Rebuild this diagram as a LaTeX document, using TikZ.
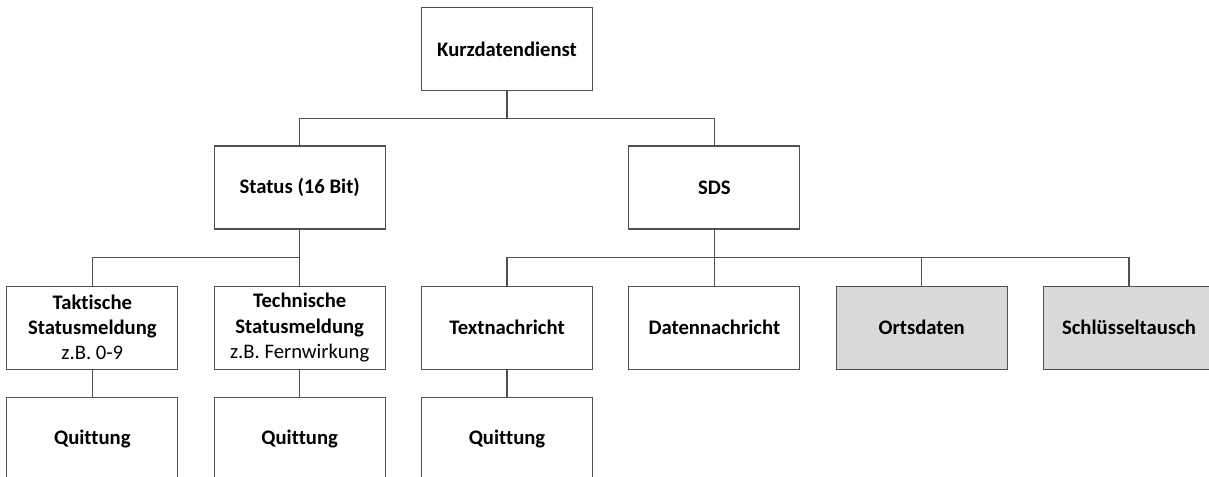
\documentclass[tikz,border=0pt]{standalone}
\usepackage{fontspec}
\setmainfont[Ligatures=NoCommon]{Carlito}
\usetikzlibrary{positioning,calc}
\definecolor{linegray}{RGB}{80,80,80}
\definecolor{boxgray}{RGB}{217,217,217}
\tikzset{
	box/.style={rectangle,draw=linegray,line width=.8pt,minimum width=128.25pt,minimum height=62.25pt,inner sep=0pt,align=center,font=\bfseries\fontsize{15.5}{18.8}\selectfont},
	greybox/.style={box,fill=boxgray},
	bus/.style={draw=linegray,line width=.8pt,to path={(\tikztostart.south) |- ($(\tikztostart.south)!.5!(\tikztotarget.north)$) -| (\tikztotarget.north)}},
}
\begin{document}
\begin{tikzpicture}[-,on grid,node distance=155.5pt]
	\clip (0,0) rectangle (906.75pt,-357.75pt);
	\node[box]		(K) at (380.25pt,-36.75pt)		{Kurzdatendienst};
	\node[box]		(S) [below left=103.9pt and 155.5pt of K]	{Status (16 Bit)};
	\node[box]		(D) [below right=103.9pt and 155.5pt of K]	{SDS};
	\node[box]		(T1) [below left=105pt and 155.5pt of S]	{Taktische\\Statusmeldung\\{\mdseries z.B. 0-9}};
	\node[box]		(T2) [below=105pt of S]	{Technische\\Statusmeldung\\{\mdseries z.B. Fernwirkung}};
	\node[box]		(N1) [below left=105pt and 155.5pt of D]	{Textnachricht};
	\node[box]		(N2) [below=105pt of D]	{Datennachricht};
	\node[greybox]	(N3) [right=of N2]	{Ortsdaten};
	\node[greybox]	(N4) [right=of N3]	{Schlüsseltausch};
	\node[box]		(Q1) [below=83.25pt of T1]	{Quittung};
	\node[box]		(Q2) [below=83.25pt of T2]	{Quittung};
	\node[box]		(Q3) [below=83.25pt of N1]	{Quittung};
	\path
	(K) edge[bus]	(S)
	(K) edge[bus]	(D)
	(S) edge[bus]	(T1)
	(S) edge[bus]	(T2)
	(D) edge[bus]	(N1)
	(D) edge[bus]	(N2)
	(D) edge[bus]	(N3)
	(D) edge[bus]	(N4)
	(T1) edge[bus]	(Q1)
	(T2) edge[bus]	(Q2)
	(N1) edge[bus]	(Q3)
	;
\end{tikzpicture}
\end{document}
